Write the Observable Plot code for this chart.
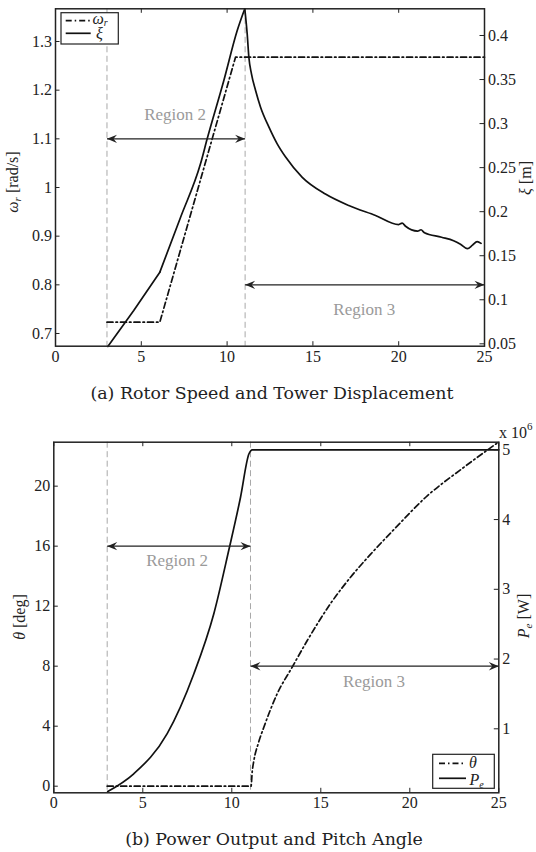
<!DOCTYPE html>
<html><head><meta charset="utf-8">
<script src="https://cdn.jsdelivr.net/npm/d3@7"></script>
<script src="https://cdn.jsdelivr.net/npm/@observablehq/plot@0.6"></script>
<style>
html,body{margin:0;padding:0;background:#fff;}
#wrap{position:relative;width:536px;height:852px;overflow:hidden;background:#fff;}
#wrap > *{position:absolute;left:0;}
</style></head>
<body><div id="wrap"></div>
<script>
// ---------------- shared ----------------
const windTicks = [0, 5, 10, 15, 20, 25];
const regionBounds = [3, 11.05];
const regionNames = ["Region 2", "Region 3"];
const regionArrowFrom = [3, 11.05];
const regionArrowTo = [11.05, 25];

// ---------------- (a) rotor speed / tower displacement ----------------
const omegaTicks = [0.7, 0.8, 0.9, 1.0, 1.1, 1.2, 1.3];
const xiTicks = [0.05, 0.1, 0.15, 0.2, 0.25, 0.3, 0.35, 0.4];
const omegaDomain = [0.6739, 1.3672];
const xiDomain = [0.0473, 0.4303];
const omegaWind = [3, 6.08, 10.49, 25];
const omegaValue = [0.7232, 0.7232, 1.2677, 1.2677];
const xiLowWind = [3.05, 4.56, 6.08];
const xiLowValue = [0.047, 0.0878, 0.1313];
const xiRiseWind = [6.08, 7.29, 8.45, 8.84, 9.81, 10.59, 11.03];
const xiRiseValue = [0.1313, 0.1937, 0.2543, 0.2827, 0.3489, 0.4056, 0.4303];
const xiFallWind = [11.03, 11.17, 11.27, 11.42, 11.66, 11.95, 12.44, 12.92, 13.41, 14.38, 15.73, 17.09, 18.65, 20.0, 20.2, 20.4, 21.1, 21.3, 21.5, 22.5, 23.2, 23.6, 24.0, 24.3, 24.57, 24.8];
const xiFallValue = [0.4303, 0.402, 0.375, 0.3565, 0.3375, 0.3186, 0.296, 0.277, 0.262, 0.239, 0.220, 0.207, 0.1957, 0.1854, 0.187, 0.1835, 0.178, 0.1795, 0.176, 0.171, 0.167, 0.163, 0.158, 0.162, 0.166, 0.164];
const omegaArrowLevel = [1.1, 0.8];
const omegaLabelWind = [6.97, 17.99];
const omegaLabelLevel = [1.15, 0.75];

// ---------------- (b) power output / pitch angle ----------------
const thetaTicks = [0, 4, 8, 12, 16, 20];
const powerTicks = [1, 2, 3, 4, 5]; // x 10^6 W
const thetaDomain = [-0.44, 22.93];
const powerDomain = [0.0825, 5.109];
const thetaWind = [3, 11.08, 11.15, 11.24, 11.5, 11.8, 12.55, 13.39, 14.24, 15.54, 16.67, 17.79, 19.1, 20.98, 22.86, 25];
const thetaValue = [0, 0, 1.0, 1.71, 2.9, 3.93, 6.16, 7.93, 9.71, 12.16, 13.93, 15.45, 17.1, 19.35, 21.1, 22.95];
const powerWind = [3.03, 4.49, 6.37, 7.87, 8.99, 9.83, 10.49, 10.96, 11.15, 25];
const powerValue = [0.1, 0.355, 0.93, 1.79, 2.65, 3.56, 4.32, 4.94, 5.0, 5.0];
const thetaArrowLevel = [16, 8];
const thetaLabelWind = [6.93, 17.99];
const thetaLabelLevel = [15.05, 7.0];

// ---------------- drawing ----------------
const fmt = v => String(Math.round(v * 100) / 100);
const arrowHead = {
  draw(ctx) { ctx.moveTo(0, 0); ctx.lineTo(-10, -4.2); ctx.lineTo(-6.5, 0); ctx.lineTo(-10, 4.2); ctx.closePath(); }
};

function chart(o) {
  const plotW = 536 - o.ml - o.mr, plotH = o.h - o.mt - o.mb, tk = 4.5;
  const toL = v => o.lDom[0] + (v - o.rDom[0]) / (o.rDom[1] - o.rDom[0]) * (o.lDom[1] - o.lDom[0]);
  const fromL = v => o.rDom[0] + (v - o.lDom[0]) / (o.lDom[1] - o.lDom[0]) * (o.rDom[1] - o.rDom[0]);
  const lineMarks = o.series.map(s => {
    const data = s.x.map((x, i) => ({x, y: s.right ? toL(s.y[i]) : s.y[i]}));
    return Plot.line(data, {x: "x", y: "y", curve: s.curve, stroke: "#111", strokeWidth: 1.7,
      strokeDasharray: s.dash ? "6,3,1.5,3" : null});
  });
  const arrows = regionArrowFrom.map((x1, i) => ({x1, x2: regionArrowTo[i], y: o.arrowY[i]}));
  const heads = arrows.flatMap(a => [{x: a.x1, y: a.y, rot: 180}, {x: a.x2, y: a.y, rot: 0}]);
  const labels = regionNames.map((t, i) => ({t, x: o.labelX[i], y: o.labelY[i]}));
  const rightTicks = o.rTicks.map(toL);
  return Plot.plot({
    width: 536, height: o.h, marginLeft: o.ml, marginRight: o.mr, marginTop: o.mt, marginBottom: o.mb,
    x: {domain: [0, 25]}, y: {domain: o.lDom},
    style: {fontFamily: "Liberation Serif, Times New Roman, serif", fontSize: "16px", color: "#222", background: "transparent", overflow: "visible"},
    marks: [
      Plot.ruleX(regionBounds, {x: d => d, stroke: "#a8a8a8", strokeWidth: 1, strokeDasharray: "6,3.5"}),
      ...lineMarks,
      Plot.link(arrows, {x1: "x1", x2: "x2", y1: "y", y2: "y", stroke: "#222", strokeWidth: 1.2}),
      Plot.dot(heads, {x: "x", y: "y", rotate: "rot", symbol: arrowHead, r: 4, fill: "#222", stroke: "none"}),
      Plot.text(labels, {x: "x", y: "y", text: "t", fill: "#9a9a9a", fontSize: 17}),
      Plot.tickX(windTicks, {x: d => d, insetTop: plotH - tk, stroke: "#222"}),
      Plot.tickX(windTicks, {x: d => d, insetBottom: plotH - tk, stroke: "#222"}),
      Plot.tickY(o.lTicks, {y: d => d, insetRight: plotW - tk, stroke: "#222"}),
      Plot.tickY(rightTicks, {y: d => d, insetLeft: plotW - tk, stroke: "#222"}),
      Plot.axisX(windTicks, {tickSize: 0, tickPadding: 4, label: null}),
      Plot.axisY(o.lTicks, {anchor: "left", tickSize: 0, tickPadding: 3.5, label: null, tickFormat: fmt}),
      Plot.axisY(rightTicks, {anchor: "right", tickSize: 0, tickPadding: 3.5, label: null, tickFormat: d => fmt(fromL(d))}),
      Plot.frame({stroke: "#222", strokeWidth: 1.5})
    ]
  });
}

const wrap = document.getElementById("wrap");

const c1 = chart({
  h: 372, ml: 55, mr: 52, mt: 8.3, mb: 26.3,
  lDom: omegaDomain, rDom: xiDomain, lTicks: omegaTicks, rTicks: xiTicks,
  series: [
    {x: omegaWind, y: omegaValue, dash: true, curve: "linear"},
    {x: xiLowWind, y: xiLowValue, right: true, curve: "linear"},
    {x: xiRiseWind, y: xiRiseValue, right: true, curve: "monotone-x"},
    {x: xiFallWind, y: xiFallValue, right: true, curve: "monotone-x"}
  ],
  arrowY: omegaArrowLevel, labelX: omegaLabelWind, labelY: omegaLabelLevel
});
c1.style.top = "0px";
wrap.appendChild(c1);

const c2 = chart({
  h: 412, ml: 53.3, mr: 37.7, mt: 35.7, mb: 25.7,
  lDom: thetaDomain, rDom: powerDomain, lTicks: thetaTicks, rTicks: powerTicks,
  series: [
    {x: thetaWind, y: thetaValue, dash: true, curve: "monotone-x"},
    {x: powerWind, y: powerValue, right: true, curve: "monotone-x"}
  ],
  arrowY: thetaArrowLevel, labelX: thetaLabelWind, labelY: thetaLabelLevel
});
c2.style.top = "406px";
wrap.appendChild(c2);

// ---------------- labels, legends, captions ----------------
const ns = "http://www.w3.org/2000/svg";
const ov = document.createElementNS(ns, "svg");
ov.setAttribute("width", 536); ov.setAttribute("height", 852);
ov.style.top = "0px"; ov.style.pointerEvents = "none";
ov.setAttribute("font-family", "Liberation Serif, Times New Roman, serif");
ov.setAttribute("fill", "#222");
const dd = "6,3,1.5,3";
ov.innerHTML = `
<text transform="translate(18,182) rotate(-90)" text-anchor="middle" font-size="16"><tspan font-style="italic">ω</tspan><tspan font-style="italic" font-size="11" dy="3">r</tspan><tspan dy="-3"> [rad/s]</tspan></text>
<text transform="translate(531,178) rotate(-90)" text-anchor="middle" font-size="16"><tspan font-style="italic">ξ</tspan> [m]</text>
<text transform="translate(25,617) rotate(-90)" text-anchor="middle" font-size="16"><tspan font-style="italic">θ</tspan> [deg]</text>
<text transform="translate(529,616) rotate(-90)" text-anchor="middle" font-size="16"><tspan font-style="italic">P</tspan><tspan font-style="italic" font-size="11" dy="3">e</tspan><tspan dy="-3"> [W]</tspan></text>

<rect x="61" y="12.7" width="57.3" height="31.3" fill="#fff" stroke="#222" stroke-width="1.2"/>
<line x1="65.7" x2="90.7" y1="20.7" y2="20.7" stroke="#111" stroke-width="1.7" stroke-dasharray="${dd}"/>
<text x="92.5" y="23.5" font-size="16" font-style="italic">ω<tspan font-size="10" dy="2.5">r</tspan></text>
<line x1="65.7" x2="90.7" y1="33.3" y2="33.3" stroke="#111" stroke-width="1.7"/>
<text x="96" y="39" font-size="16" font-style="italic">ξ</text>

<rect x="432.7" y="754.3" width="61.6" height="34" fill="#fff" stroke="#222" stroke-width="1.2"/>
<line x1="439" x2="466" y1="763.3" y2="763.3" stroke="#111" stroke-width="1.7" stroke-dasharray="${dd}"/>
<text x="469" y="767.5" font-size="16" font-style="italic">θ</text>
<line x1="439" x2="466" y1="778.3" y2="778.3" stroke="#111" stroke-width="1.7"/>
<text x="469.5" y="785" font-size="16" font-style="italic">P<tspan font-size="10" dy="2.5">e</tspan></text>

<text x="499" y="438" font-size="16">x 10<tspan font-size="11" dy="-8">6</tspan></text>

<text x="272" y="399" text-anchor="middle" font-family="DejaVu Serif, serif" font-size="17.4">(a) Rotor Speed and Tower Displacement</text>
<text x="274" y="845" text-anchor="middle" font-family="DejaVu Serif, serif" font-size="17.4">(b) Power Output and Pitch Angle</text>
`;
wrap.appendChild(ov);
</script>
</body></html>
